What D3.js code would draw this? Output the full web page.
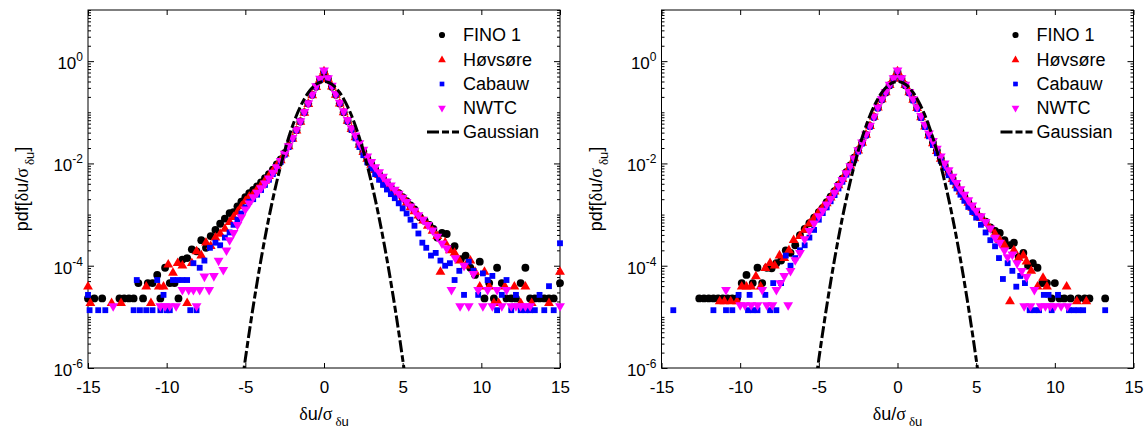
<!DOCTYPE html>
<html>
<head>
<meta charset="utf-8">
<script src="https://cdn.jsdelivr.net/npm/d3@7"></script>
<style>
  html, body { margin: 0; padding: 0; background: #fff; }
  svg text { font-family: "Liberation Sans", Arial, Helvetica, sans-serif; }
</style>
</head>
<body>
<svg id="chart" width="1148" height="432"></svg>
<script>
// ---------- data ----------
const seriesNames = ["FINO 1", "Høvsøre", "Cabauw", "NWTC"];
const xTicks = [-15, -10, -5, 0, 5, 10, 15];
const yTickExponents = [0, -2, -4, -6];

// bin centres shared by the dense central part of every pdf
const coreBins = [-4.5,-4.25,-4,-3.75,-3.5,-3.25,-3,-2.75,-2.5,-2.25,-2,-1.75,-1.5,-1.25,-1,-0.75,-0.5,-0.25,0,
  0.25,0.5,0.75,1,1.25,1.5,1.75,2,2.25,2.5,2.75,3,3.25,3.5,3.75,4,4.25,4.5];

// left panel: central pdf values
const fino1CoreL = [3.02e-3,3.55e-3,4.27e-3,5.13e-3,6.17e-3,7.59e-3,9.55e-3,1.20e-2,1.58e-2,2.19e-2,3.09e-2,4.47e-2,6.61e-2,0.100,0.148,0.219,0.316,0.437,0.603,
  0.447,0.316,0.219,0.148,0.100,6.76e-2,4.68e-2,3.31e-2,2.34e-2,1.70e-2,1.26e-2,9.77e-3,7.76e-3,6.17e-3,5.01e-3,4.07e-3,3.39e-3,2.82e-3];
const hovsoreCoreL = [2.51e-3,3.09e-3,3.72e-3,4.57e-3,5.62e-3,7.08e-3,8.91e-3,1.15e-2,1.55e-2,2.14e-2,3.02e-2,4.37e-2,6.46e-2,9.77e-2,0.145,0.214,0.309,0.437,0.631,
  0.447,0.316,0.219,0.148,0.100,6.76e-2,4.68e-2,3.24e-2,2.29e-2,1.66e-2,1.23e-2,9.33e-3,7.41e-3,5.89e-3,4.79e-3,3.89e-3,3.24e-3,2.69e-3];
const cabauwCoreL = [2.00e-3,2.45e-3,3.02e-3,3.80e-3,4.79e-3,6.17e-3,8.13e-3,1.07e-2,1.48e-2,2.09e-2,3.02e-2,4.47e-2,6.61e-2,0.100,0.148,0.219,0.316,0.447,0.646,
  0.457,0.324,0.224,0.151,0.102,6.76e-2,4.57e-2,3.09e-2,2.09e-2,1.45e-2,1.05e-2,7.94e-3,6.17e-3,4.79e-3,3.80e-3,3.09e-3,2.51e-3,2.09e-3];
const nwtcCoreL = [2.19e-3,2.69e-3,3.31e-3,4.07e-3,5.13e-3,6.61e-3,8.51e-3,1.12e-2,1.55e-2,2.19e-2,3.16e-2,4.57e-2,6.76e-2,0.102,0.151,0.224,0.324,0.457,0.661,
  0.468,0.331,0.229,0.155,0.105,7.08e-2,4.90e-2,3.55e-2,2.51e-2,1.86e-2,1.38e-2,1.07e-2,8.51e-3,6.76e-3,5.50e-3,4.47e-3,3.72e-3,3.09e-3];

// left panel: tails [x, pdf]
const fino1TailL = [[-15.0,2.29e-5],[-14.6,2.29e-5],[-14.1,2.29e-5],[-13.0,2.29e-5],[-12.7,2.29e-5],[-12.4,2.29e-5],[-12.1,2.29e-5],[-11.8,4.57e-5],[-11.5,2.29e-5],[-11.2,4.57e-5],[-10.9,4.57e-5],[-10.6,6.61e-5],[-10.4,2.29e-5],[-10.1,9.12e-5],[-9.8,4.57e-5],[-9.5,4.57e-5],[-9.25,2.29e-5],[-9.0,1.32e-4],[-8.7,1.41e-4],[-8.4,2.09e-4],[-8.1,1.91e-4],[-7.8,3.16e-4],[-7.5,2.24e-4],[-7.2,3.80e-4],[-6.9,5.01e-4],[-6.6,6.61e-4],[-6.3,8.32e-4],[-6.0,1.07e-3],[-5.75,1.12e-3],[-5.5,1.45e-3],[-5.25,1.78e-3],[-5.0,2.19e-3],[-4.75,2.63e-3],
  [4.75,2.63e-3],[5.0,2.19e-3],[5.25,1.82e-3],[5.5,1.51e-3],[5.75,1.26e-3],[6.1,8.91e-4],[6.4,7.59e-4],[6.7,6.31e-4],[6.95,5.25e-4],[7.2,3.55e-4],[7.5,4.37e-4],[7.8,4.17e-4],[8.0,2.14e-4],[8.3,2.40e-4],[8.7,1.35e-4],[9.0,1.58e-4],[9.3,9.12e-5],[9.6,6.61e-5],[9.9,1.20e-4],[10.2,2.29e-5],[10.5,4.57e-5],[10.8,2.29e-5],[11.0,9.12e-5],[11.3,4.57e-5],[11.6,2.29e-5],[11.9,2.29e-5],[12.2,2.29e-5],[12.5,4.57e-5],[12.8,9.12e-5],[13.1,2.29e-5],[13.4,2.29e-5],[13.7,2.29e-5],[14.0,2.29e-5],[14.3,2.29e-5],[14.6,2.29e-5],[15.0,4.57e-5]];
const hovsoreTailL = [[-15.0,3.89e-5],[-14.85,1.86e-5],[-13.5,1.86e-5],[-12.9,1.86e-5],[-11.3,3.89e-5],[-11.0,1.86e-5],[-10.5,3.89e-5],[-10.2,3.89e-5],[-9.9,1.05e-4],[-9.6,7.24e-5],[-9.3,1.12e-4],[-9.0,1.00e-4],[-8.7,1.86e-5],[-8.4,1.12e-4],[-8.1,1.91e-4],[-7.8,1.58e-4],[-7.5,2.82e-4],[-7.2,2.40e-4],[-6.9,3.55e-4],[-6.6,4.17e-4],[-6.3,5.25e-4],[-6.0,7.08e-4],[-5.75,8.91e-4],[-5.5,1.12e-3],[-5.25,1.45e-3],[-5.0,1.82e-3],[-4.75,2.24e-3],
  [4.75,2.51e-3],[5.0,2.04e-3],[5.25,1.70e-3],[5.5,1.38e-3],[5.75,1.15e-3],[6.0,9.55e-4],[6.3,7.59e-4],[6.6,6.03e-4],[6.9,4.79e-4],[7.2,3.80e-4],[7.4,7.59e-5],[7.7,2.82e-4],[8.0,2.00e-4],[8.3,1.78e-4],[8.6,1.26e-4],[9.0,1.00e-4],[9.3,1.26e-4],[9.6,7.59e-5],[9.9,3.89e-5],[10.2,7.59e-5],[10.5,3.89e-5],[10.8,1.86e-5],[11.1,1.86e-5],[11.5,3.89e-5],[12.1,3.89e-5],[12.5,1.86e-5],[12.8,3.89e-5],[13.2,1.86e-5],[14.3,1.86e-5],[15.0,7.59e-5]];
const cabauwTailL = [[-15.0,2.69e-5],[-14.9,1.35e-5],[-14.35,1.35e-5],[-13.9,1.35e-5],[-12.1,1.35e-5],[-11.9,5.25e-5],[-11.7,1.35e-5],[-11.3,1.35e-5],[-10.9,1.35e-5],[-10.6,5.25e-5],[-10.4,1.35e-5],[-10.2,2.69e-5],[-10.0,1.35e-5],[-9.8,1.35e-5],[-9.6,5.25e-5],[-9.3,5.25e-5],[-9.0,5.25e-5],[-8.7,5.25e-5],[-8.5,1.35e-5],[-8.3,1.12e-4],[-8.1,1.35e-5],[-7.9,9.12e-5],[-7.6,1.26e-4],[-7.25,2.24e-4],[-6.9,2.82e-4],[-6.6,2.51e-4],[-6.3,3.55e-4],[-6.0,4.47e-4],[-5.75,6.31e-4],[-5.5,7.94e-4],[-5.25,1.05e-3],[-5.0,1.38e-3],[-4.75,1.78e-3],
  [4.75,1.66e-3],[5.0,1.32e-3],[5.25,1.05e-3],[5.5,7.94e-4],[5.75,6.03e-4],[6.0,4.27e-4],[6.25,2.82e-4],[6.5,2.24e-4],[6.8,1.58e-4],[7.1,1.78e-4],[7.4,1.26e-4],[7.7,1.00e-4],[8.0,1.12e-4],[8.3,5.25e-5],[8.6,7.94e-5],[8.9,2.69e-5],[9.2,1.20e-4],[9.5,7.94e-5],[9.8,2.69e-5],[10.1,7.08e-5],[10.4,5.25e-5],[10.7,6.31e-5],[11.0,1.35e-5],[11.3,2.69e-5],[11.6,5.25e-5],[11.9,1.35e-5],[12.2,2.69e-5],[12.5,1.35e-5],[12.8,1.35e-5],[13.1,1.35e-5],[13.4,1.35e-5],[13.7,2.69e-5],[14.0,1.35e-5],[14.3,3.98e-5],[14.6,1.35e-5],[15.0,2.75e-4]];
const nwtcTailL = [[-13.4,1.62e-5],[-10.4,1.62e-5],[-10.1,1.62e-5],[-9.8,1.62e-5],[-9.4,1.62e-5],[-9.0,3.39e-5],[-8.6,3.39e-5],[-8.3,3.39e-5],[-8.1,1.62e-5],[-7.9,3.39e-5],[-7.6,6.17e-5],[-7.3,3.39e-5],[-7.0,6.31e-5],[-6.7,1.26e-4],[-6.4,8.32e-5],[-6.2,2.00e-4],[-6.0,3.16e-4],[-5.75,4.37e-4],[-5.5,6.31e-4],[-5.25,8.91e-4],[-5.0,1.26e-3],[-4.75,1.66e-3],
  [4.75,2.57e-3],[5.0,2.14e-3],[5.25,1.78e-3],[5.5,1.45e-3],[5.75,1.20e-3],[6.0,9.77e-4],[6.3,7.94e-4],[6.6,6.31e-4],[6.9,4.90e-4],[7.2,3.72e-4],[7.5,2.75e-4],[7.8,2.19e-4],[8.1,3.39e-5],[8.35,1.41e-4],[8.65,1.62e-5],[8.9,1.00e-4],[9.2,1.62e-5],[9.5,6.92e-5],[9.8,3.39e-5],[10.1,1.62e-5],[10.4,3.39e-5],[10.7,1.62e-5],[11.0,3.39e-5],[11.3,1.62e-5],[11.6,3.39e-5],[11.9,1.62e-5],[12.2,1.62e-5],[12.5,1.62e-5],[12.8,1.62e-5],[13.1,1.62e-5],[15.0,1.62e-5]];

// right panel: central pdf values
const fino1CoreR = [1.74e-3,2.24e-3,2.88e-3,3.80e-3,5.01e-3,6.76e-3,9.12e-3,1.29e-2,1.82e-2,2.57e-2,3.63e-2,5.37e-2,8.13e-2,0.123,0.178,0.245,0.339,0.457,0.617,
  0.457,0.339,0.245,0.178,0.123,8.13e-2,5.37e-2,3.63e-2,2.51e-2,1.78e-2,1.26e-2,9.12e-3,6.76e-3,5.01e-3,3.80e-3,2.88e-3,2.24e-3,1.74e-3];
const hovsoreCoreR = [1.66e-3,2.14e-3,2.82e-3,3.72e-3,4.90e-3,6.61e-3,8.91e-3,1.26e-2,1.78e-2,2.51e-2,3.63e-2,5.37e-2,8.13e-2,0.123,0.178,0.245,0.339,0.457,0.631,
  0.457,0.339,0.245,0.174,0.120,7.94e-2,5.25e-2,3.55e-2,2.45e-2,1.74e-2,1.23e-2,8.91e-3,6.61e-3,4.90e-3,3.72e-3,2.82e-3,2.19e-3,1.70e-3];
const cabauwCoreR = [1.38e-3,1.82e-3,2.40e-3,3.24e-3,4.37e-3,6.03e-3,8.32e-3,1.17e-2,1.70e-2,2.45e-2,3.55e-2,5.25e-2,7.94e-2,0.120,0.178,0.245,0.339,0.457,0.646,
  0.457,0.339,0.240,0.170,0.117,7.76e-2,5.13e-2,3.39e-2,2.29e-2,1.58e-2,1.12e-2,8.13e-3,5.89e-3,4.37e-3,3.24e-3,2.45e-3,1.86e-3,1.41e-3];
const nwtcCoreR = [1.58e-3,2.04e-3,2.69e-3,3.63e-3,4.79e-3,6.46e-3,8.91e-3,1.26e-2,1.82e-2,2.57e-2,3.72e-2,5.50e-2,8.32e-2,0.126,0.182,0.251,0.347,0.468,0.661,
  0.468,0.347,0.251,0.182,0.126,8.51e-2,5.75e-2,3.89e-2,2.75e-2,1.95e-2,1.38e-2,1.00e-2,7.41e-3,5.50e-3,4.17e-3,3.16e-3,2.45e-3,1.91e-3];

// right panel: tails [x, pdf]
const fino1TailR = [[-12.6,2.29e-5],[-12.3,2.29e-5],[-12.0,2.29e-5],[-11.7,2.29e-5],[-11.4,2.29e-5],[-11.1,2.29e-5],[-10.8,2.29e-5],[-10.5,2.29e-5],[-10.2,2.29e-5],[-9.9,4.57e-5],[-9.6,6.61e-5],[-9.2,4.57e-5],[-8.9,9.12e-5],[-8.6,4.57e-5],[-8.3,9.12e-5],[-8.0,8.91e-5],[-7.7,1.12e-4],[-7.4,1.26e-4],[-7.1,2.00e-4],[-6.8,1.78e-4],[-6.5,2.51e-4],[-6.2,3.98e-4],[-5.9,5.25e-4],[-5.6,6.76e-4],[-5.3,8.71e-4],[-5.0,1.12e-3],[-4.75,1.35e-3],
  [4.75,1.35e-3],[5.0,1.10e-3],[5.3,8.91e-4],[5.6,7.24e-4],[5.9,5.62e-4],[6.2,4.79e-4],[6.5,4.37e-4],[6.8,3.16e-4],[7.1,2.51e-4],[7.4,2.82e-4],[7.7,1.48e-4],[8.0,1.78e-4],[8.3,1.00e-4],[8.6,1.12e-4],[8.9,9.12e-5],[9.2,4.57e-5],[9.5,4.57e-5],[9.8,2.29e-5],[10.0,4.57e-5],[10.3,2.29e-5],[10.6,2.29e-5],[11.0,2.29e-5],[11.5,2.29e-5],[11.9,2.29e-5],[12.2,2.29e-5],[13.2,2.29e-5]];
const hovsoreTailR = [[-11.3,2.00e-5],[-11.0,2.00e-5],[-10.6,2.00e-5],[-10.2,2.00e-5],[-9.9,3.89e-5],[-9.6,3.89e-5],[-9.3,3.89e-5],[-9.0,6.17e-5],[-8.7,3.89e-5],[-8.4,8.91e-5],[-8.1,1.12e-4],[-7.8,1.00e-4],[-7.5,1.58e-4],[-7.2,1.41e-4],[-6.9,2.00e-4],[-6.6,3.16e-4],[-6.2,3.80e-4],[-5.9,5.01e-4],[-5.6,6.61e-4],[-5.3,8.51e-4],[-5.0,1.12e-3],[-4.75,1.38e-3],
  [4.75,1.35e-3],[5.0,1.07e-3],[5.3,8.51e-4],[5.6,6.76e-4],[5.9,5.25e-4],[6.2,4.17e-4],[6.5,3.16e-4],[6.8,2.51e-4],[7.15,2.00e-5],[7.4,2.00e-4],[7.7,1.41e-4],[8.0,1.58e-4],[8.2,1.20e-4],[8.5,7.94e-5],[8.9,3.89e-5],[9.25,5.75e-5],[9.5,3.89e-5],[10.75,3.89e-5],[11.4,2.00e-5],[12.0,2.00e-5]];
const cabauwTailR = [[-14.25,1.35e-5],[-11.7,1.35e-5],[-10.9,1.35e-5],[-10.5,1.35e-5],[-10.1,2.69e-5],[-9.5,1.35e-5],[-9.4,2.69e-5],[-9.2,1.35e-5],[-8.9,1.35e-5],[-8.4,2.69e-5],[-8.1,1.35e-5],[-7.9,4.57e-5],[-7.7,1.35e-5],[-7.4,4.57e-5],[-7.1,1.58e-4],[-6.8,1.00e-4],[-6.5,1.41e-4],[-6.2,2.00e-4],[-5.9,2.51e-4],[-5.6,3.55e-4],[-5.3,5.01e-4],[-5.0,7.94e-4],[-4.75,1.07e-3],
  [4.75,1.12e-3],[5.0,8.71e-4],[5.3,6.31e-4],[5.6,4.47e-4],[5.9,3.16e-4],[6.2,2.40e-4],[6.45,1.41e-4],[6.7,5.50e-5],[7.0,1.12e-4],[7.3,7.94e-5],[7.55,3.89e-5],[7.8,6.31e-5],[8.1,4.57e-5],[8.4,1.35e-5],[8.7,1.35e-5],[9.0,1.35e-5],[9.3,2.69e-5],[9.6,2.69e-5],[9.8,1.35e-5],[10.2,2.69e-5],[10.9,1.35e-5],[11.2,1.35e-5],[11.5,1.35e-5],[11.8,1.35e-5],[13.2,1.35e-5]];
const nwtcTailR = [[-10.9,3.39e-5],[-10.0,1.70e-5],[-9.7,1.70e-5],[-9.3,1.70e-5],[-8.9,1.70e-5],[-8.6,3.39e-5],[-8.3,1.70e-5],[-7.95,1.70e-5],[-7.7,3.39e-5],[-7.45,4.57e-5],[-7.2,6.31e-5],[-6.95,1.70e-5],[-6.8,7.94e-5],[-6.5,1.29e-4],[-6.2,1.78e-4],[-5.9,3.31e-4],[-5.6,4.79e-4],[-5.3,6.76e-4],[-5.0,9.33e-4],[-4.75,1.20e-3],
  [4.75,1.51e-3],[5.0,1.20e-3],[5.3,9.33e-4],[5.6,7.24e-4],[5.9,5.37e-4],[6.2,3.55e-4],[6.5,2.82e-4],[6.8,2.00e-4],[7.0,1.48e-4],[7.3,1.66e-4],[7.6,1.12e-4],[7.9,7.94e-5],[8.05,1.62e-5],[8.2,6.03e-5],[8.45,1.62e-5],[8.7,3.39e-5],[9.1,1.62e-5],[9.4,1.62e-5],[9.7,1.62e-5],[10.0,1.62e-5],[10.4,1.62e-5],[10.8,1.62e-5]];

// standard normal pdf, for reference
const gaussX = [-5.25,-5,-4.75,-4.5,-4.25,-4,-3.75,-3.5,-3.25,-3,-2.75,-2.5,-2.25,-2,-1.75,-1.5,-1.25,-1,-0.75,-0.5,-0.25,0,
  0.25,0.5,0.75,1,1.25,1.5,1.75,2,2.25,2.5,2.75,3,3.25,3.5,3.75,4,4.25,4.5,4.75,5,5.25];
const gaussPdf = [4.13e-7,1.49e-6,5.03e-6,1.60e-5,4.77e-5,1.34e-4,3.53e-4,8.73e-4,2.03e-3,4.43e-3,9.09e-3,1.75e-2,3.17e-2,5.40e-2,8.63e-2,0.1295,0.1826,0.2420,0.3011,0.3521,0.3867,0.3989,
  0.3867,0.3521,0.3011,0.2420,0.1826,0.1295,8.63e-2,5.40e-2,3.17e-2,1.75e-2,9.09e-3,4.43e-3,2.03e-3,8.73e-4,3.53e-4,1.34e-4,4.77e-5,1.60e-5,5.03e-6,1.49e-6,4.13e-7];

// ---------- drawing ----------
const svg = d3.select("#chart");
const plotTop = 10, plotBottom = 368;
const fontFamily = '"Liberation Sans", Arial, Helvetica, sans-serif';
const greekFamily = '"Liberation Serif", "Times New Roman", serif';

const styles = [
  { color: "#000000", shape: "circle" },
  { color: "#ff0000", shape: "up" },
  { color: "#0000ff", shape: "square" },
  { color: "#ff00ff", shape: "down" }
];

function markerPath(shape, big) {
  if (shape === "circle") return d3.symbol().type(d3.symbolCircle).size(big ? 48 : 30)();
  if (shape === "square") return d3.symbol().type(d3.symbolSquare).size(big ? 34 : 22)();
  return d3.symbol().type(d3.symbolTriangle).size(big ? 42 : 26)();
}

const panels = [
  { left: 88, right: 560,
    cores: [fino1CoreL, hovsoreCoreL, cabauwCoreL, nwtcCoreL],
    tails: [fino1TailL, hovsoreTailL, cabauwTailL, nwtcTailL] },
  { left: 661.5, right: 1133.5,
    cores: [fino1CoreR, hovsoreCoreR, cabauwCoreR, nwtcCoreR],
    tails: [fino1TailR, hovsoreTailR, cabauwTailR, nwtcTailR] }
];

panels.forEach((p, pi) => {
  const x = d3.scaleLinear().domain([-15, 15]).range([p.left, p.right]);
  const y = d3.scaleLog().domain([1e-6, 10]).range([plotBottom, plotTop]);
  const g = svg.append("g").attr("class", "panel");

  const clipId = "plotclip" + pi;
  svg.append("clipPath").attr("id", clipId).append("rect")
    .attr("x", p.left).attr("y", plotTop)
    .attr("width", p.right - p.left).attr("height", plotBottom - plotTop);

  // x axes (ticks pointing inwards on bottom and top)
  const xb = g.append("g").attr("transform", `translate(0,${plotBottom})`)
    .call(d3.axisBottom(x).tickValues(xTicks).tickSize(-5).tickPadding(13).tickFormat(d => d));
  xb.select(".domain").remove();
  xb.attr("font-size", 17).attr("font-family", fontFamily);
  xb.selectAll("text").attr("fill", "#000");
  xb.selectAll("line").attr("stroke", "#000");

  const xt = g.append("g").attr("transform", `translate(0,${plotTop})`)
    .call(d3.axisTop(x).tickValues(xTicks).tickSize(-5).tickFormat(""));
  xt.select(".domain").remove();
  xt.selectAll("line").attr("stroke", "#000");

  // y axes: major ticks on labelled decades, minor ticks elsewhere
  const majors = yTickExponents.map(e => Math.pow(10, e));
  const minors = [];
  for (let k = -6; k <= 0; k++) {
    for (let m = 1; m <= 9; m++) {
      const v = m * Math.pow(10, k);
      if (m === 1 && yTickExponents.includes(k)) continue;
      minors.push(v);
    }
  }
  minors.push(10);

  [[d3.axisLeft, p.left], [d3.axisRight, p.right]].forEach(([axisFn, xpos]) => {
    const major = g.append("g").attr("transform", `translate(${xpos},0)`)
      .call(axisFn(y).tickValues(majors).tickSize(-6).tickFormat(""));
    major.select(".domain").remove();
    major.selectAll("line").attr("stroke", "#000");
    const minor = g.append("g").attr("transform", `translate(${xpos},0)`)
      .call(axisFn(y).tickValues(minors).tickSize(-3).tickFormat(""));
    minor.select(".domain").remove();
    minor.selectAll("line").attr("stroke", "#000");
  });

  // y tick labels as powers of ten
  yTickExponents.forEach(e => {
    const t = g.append("text")
      .attr("x", p.left - 5)
      .attr("y", y(Math.pow(10, e)) + 8)
      .attr("text-anchor", "end")
      .attr("font-size", 17)
      .attr("fill", "#000");
    t.append("tspan").text("10");
    t.append("tspan").attr("dy", -8).attr("font-size", 12).text(String(e));
  });

  // frame
  g.append("rect")
    .attr("x", p.left).attr("y", plotTop)
    .attr("width", p.right - p.left).attr("height", plotBottom - plotTop)
    .attr("fill", "none").attr("stroke", "#000").attr("stroke-width", 1);

  // data markers
  seriesNames.forEach((name, si) => {
    const pts = coreBins.map((b, i) => [b, p.cores[si][i]]).concat(p.tails[si]);
    const st = styles[si];
    const path = markerPath(st.shape, true);
    g.append("g").attr("class", "series")
      .selectAll("path").data(pts).join("path")
      .attr("d", path)
      .attr("transform", d => `translate(${x(d[0])},${y(d[1])})${st.shape === "down" ? " rotate(180)" : ""}`)
      .attr("fill", st.color);
  });

  // Gaussian reference
  const gaussPts = gaussX.map((v, i) => [v, gaussPdf[i]]);
  g.append("path")
    .attr("clip-path", `url(#${clipId})`)
    .attr("d", d3.line().x(d => x(d[0])).y(d => y(d[1])).curve(d3.curveCatmullRom)(gaussPts))
    .attr("fill", "none").attr("stroke", "#000")
    .attr("stroke-width", 3).attr("stroke-dasharray", "12,3,7,3");

  // legend
  const lx = p.right - 118;
  const rows = [35, 60, 84, 108, 132];
  seriesNames.forEach((name, si) => {
    const st = styles[si];
    g.append("path")
      .attr("d", markerPath(st.shape, false))
      .attr("transform", `translate(${lx},${rows[si]})${st.shape === "down" ? " rotate(180)" : ""}`)
      .attr("fill", st.color);
    g.append("text").attr("x", lx + 21).attr("y", rows[si]).attr("dy", "0.36em")
      .attr("font-size", 18).attr("fill", "#000").text(name);
  });
  g.append("line")
    .attr("x1", lx - 15).attr("x2", lx + 17).attr("y1", rows[4]).attr("y2", rows[4])
    .attr("stroke", "#000").attr("stroke-width", 3).attr("stroke-dasharray", "12,3,7,3");
  g.append("text").attr("x", lx + 21).attr("y", rows[4]).attr("dy", "0.36em")
    .attr("font-size", 18).attr("fill", "#000").text("Gaussian");

  // axis titles
  const cx = x(0);
  const xl = g.append("text").attr("x", cx).attr("y", 420)
    .attr("text-anchor", "middle").attr("font-size", 18).attr("fill", "#000");
  xl.append("tspan").attr("font-family", greekFamily).text("δ");
  xl.append("tspan").text("u/");
  xl.append("tspan").attr("font-family", greekFamily).text("σ");
  xl.append("tspan").attr("dy", 6).attr("font-size", 13).attr("dx", 3)
    .attr("font-family", greekFamily).text("δ");
  xl.append("tspan").attr("font-size", 13).text("u");

  const yl = g.append("text")
    .attr("transform", `translate(${p.left - 60},${(plotTop + plotBottom) / 2}) rotate(-90)`)
    .attr("text-anchor", "middle").attr("font-size", 18).attr("fill", "#000");
  yl.append("tspan").text("pdf[");
  yl.append("tspan").attr("font-family", greekFamily).text("δ");
  yl.append("tspan").text("u/");
  yl.append("tspan").attr("font-family", greekFamily).text("σ");
  yl.append("tspan").attr("dy", 6).attr("font-size", 13).attr("dx", 3)
    .attr("font-family", greekFamily).text("δ");
  yl.append("tspan").attr("font-size", 13).text("u");
  yl.append("tspan").attr("dy", -6).text("]");
});
</script>
</body>
</html>
